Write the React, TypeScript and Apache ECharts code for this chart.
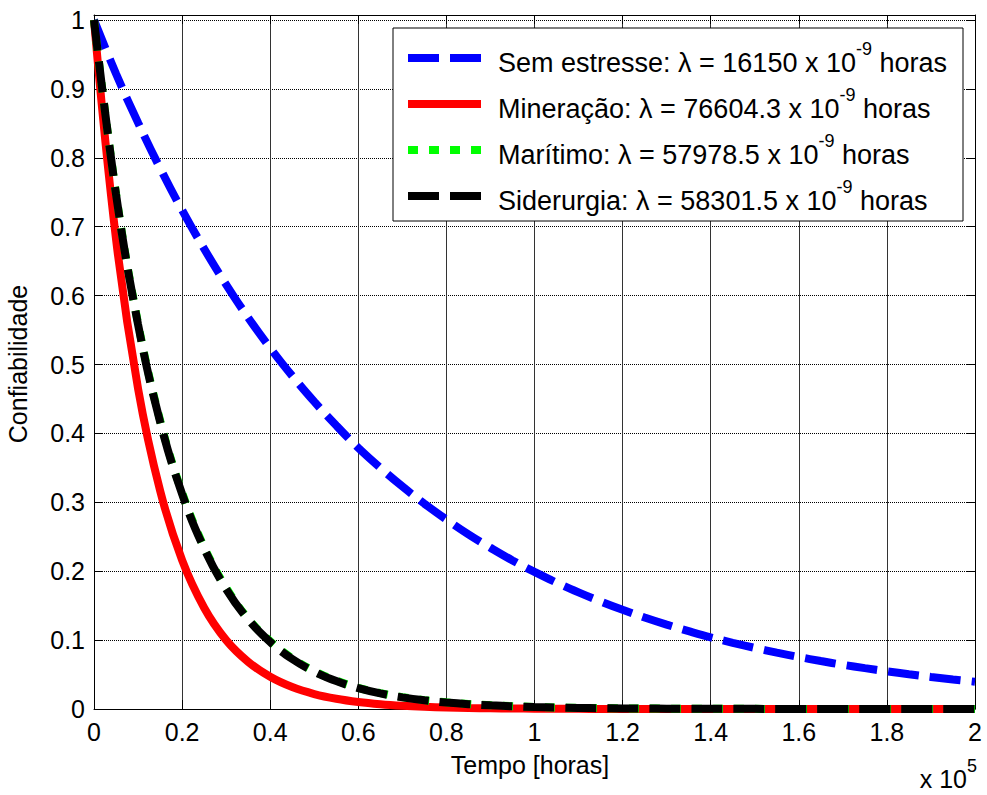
import React, { useEffect, useRef } from "react";
import * as echarts from "echarts";

// Tempo in units of 1e5 horas (0 to 2, step 0.05)
const tempo = [
  0, 0.05, 0.1, 0.15, 0.2, 0.25, 0.3, 0.35, 0.4, 0.45, 0.5, 0.55, 0.6, 0.65, 0.7, 0.75, 0.8, 0.85, 0.9, 0.95, 1.0,
  1.05, 1.1, 1.15, 1.2, 1.25, 1.3, 1.35, 1.4, 1.45, 1.5, 1.55, 1.6, 1.65, 1.7, 1.75, 1.8, 1.85, 1.9, 1.95, 2.0,
];
const semEstresse = [
  1, 0.922, 0.851, 0.785, 0.724, 0.668, 0.616, 0.568, 0.524, 0.4835, 0.446, 0.4114, 0.379, 0.35, 0.323, 0.298, 0.275, 0.2534, 0.234, 0.2156, 0.199,
  0.1834, 0.1692, 0.1561, 0.144, 0.1328, 0.1225, 0.113, 0.104, 0.0961, 0.0887, 0.0818, 0.0755, 0.0696, 0.0642, 0.0593, 0.0547, 0.0504, 0.0465, 0.0429, 0.0396,
];
const mineracao = [
  1, 0.682, 0.465, 0.317, 0.216, 0.147, 0.1, 0.0685, 0.0467, 0.0318, 0.0217, 0.0148, 0.0101, 0.0069, 0.0047, 0.0032, 0.0022, 0.0015, 0.001, 0.0007, 0.0005,
  0.0003, 0.0002, 0.0001, 0.0001, 0, 0, 0, 0, 0, 0, 0, 0, 0, 0, 0, 0, 0, 0, 0, 0,
];
const maritimo = [
  1, 0.748, 0.56, 0.419, 0.314, 0.235, 0.176, 0.131, 0.0984, 0.0736, 0.055, 0.0412, 0.0308, 0.0231, 0.0173, 0.0129, 0.0097, 0.0072, 0.0054, 0.0041, 0.003,
  0.0023, 0.0017, 0.0013, 0.00095, 0.0007, 0.0005, 0.0004, 0.0003, 0.0002, 0.0002, 0.0001, 0.0001, 0.0001, 0, 0, 0, 0, 0, 0, 0,
];
const siderurgia = [
  1, 0.747, 0.558, 0.417, 0.312, 0.233, 0.174, 0.13, 0.0971, 0.0725, 0.0542, 0.0405, 0.0303, 0.0226, 0.0169, 0.0126, 0.0094, 0.007, 0.0053, 0.0039, 0.0029,
  0.0022, 0.0016, 0.0012, 0.0009, 0.0007, 0.0005, 0.0004, 0.0003, 0.0002, 0.0002, 0.0001, 0.0001, 0.0001, 0, 0, 0, 0, 0, 0, 0,
];

const seriesNames = ["Sem estresse", "Mineração", "Marítimo", "Siderurgia"];
const legendLabels = [
  ["Sem estresse: λ = 16150 x 10", "-9", " horas"],
  ["Mineração: λ = 76604.3 x 10", "-9", " horas"],
  ["Marítimo: λ = 57978.5 x 10", "-9", " horas"],
  ["Siderurgia: λ = 58301.5 x 10", "-9", " horas"],
];
const xAxisName = "Tempo [horas]";
const yAxisName = "Confiabilidade";
const xScaleNote = ["x 10", "5"];

const FONT = "'Liberation Sans', Arial, Helvetica, sans-serif";
const colors = ["#0000ff", "#ff0000", "#00ff00", "#000000"];
const dashes: number[][] = [[31, 11], [], [10, 11], [31, 11]];

export default function App() {
  const ref = useRef<HTMLDivElement>(null);
  useEffect(() => {
    document.body.style.margin = "0";
    const chart = echarts.init(ref.current!, undefined, { renderer: "svg" });
    const all = [semEstresse, mineracao, maritimo, siderurgia];
    const GL = 94, GT = 15, GR = 12, GB = 86;
    const plotH = 795 - GT - GB; // 694
    const yMax = plotH / (709 - 20); // value 1 sits at y=20
    const axisCommonX = {
      type: "value" as const,
      min: 0,
      max: 2,
      interval: 0.2,
      axisLine: { show: true, onZero: false, lineStyle: { color: "#000", width: 1 } },
      axisTick: { show: true, inside: true, length: 9, lineStyle: { color: "#000", width: 1 } },
    };
    const axisCommonY = {
      type: "value" as const,
      min: 0,
      max: yMax,
      interval: 0.1,
      axisLine: { show: true, onZero: false, lineStyle: { color: "#000", width: 1 } },
      axisTick: { show: true, inside: true, length: 9, lineStyle: { color: "#000", width: 1 } },
    };
    const legendRows = [58, 104, 150, 196];
    const graphics: any[] = [
      {
        type: "rect",
        shape: { x: 393, y: 28, width: 570, height: 193 },
        style: { fill: "#fff", stroke: "#000", lineWidth: 1 },
        z: 100,
      },
    ];
    legendRows.forEach((y, i) => {
      graphics.push({
        type: "line",
        shape: { x1: 408, y1: y, x2: 481, y2: y },
        style: { stroke: colors[i], lineWidth: 8, lineDash: dashes[i].length ? dashes[i] : null, lineCap: "butt" },
        z: 101,
      });
      const [a, s, b] = legendLabels[i];
      graphics.push({
        type: "text",
        x: 498,
        y: y,
        style: {
          text: `{a|${a}}{s|${s}}{a|${b}}`,
          align: "left",
          verticalAlign: "middle",
          fill: "#000",
          rich: {
            a: { fontSize: 27, fontFamily: FONT, lineHeight: 36, verticalAlign: "bottom", fill: "#000" },
            s: { fontSize: 18, fontFamily: FONT, lineHeight: 18, verticalAlign: "top", fill: "#000" },
          },
        },
        z: 101,
      });
    });
    graphics.push({
      type: "text",
      x: 530,
      y: 765,
      style: { text: xAxisName, fontSize: 25, fontFamily: FONT, fill: "#000", align: "center", verticalAlign: "middle" },
    });
    graphics.push({
      type: "text",
      x: 18,
      y: 364,
      rotation: Math.PI / 2,
      style: { text: yAxisName, fontSize: 25, fontFamily: FONT, fill: "#000", align: "center", verticalAlign: "middle" },
    });
    graphics.push({
      type: "text",
      x: 977,
      y: 774,
      style: {
        text: `{a|${xScaleNote[0]}}{s|${xScaleNote[1]}}`,
        align: "right",
        verticalAlign: "middle",
        rich: {
          a: { fontSize: 25, fontFamily: FONT, lineHeight: 34, verticalAlign: "bottom", fill: "#000" },
          s: { fontSize: 18, fontFamily: FONT, lineHeight: 18, verticalAlign: "top", fill: "#000" },
        },
      },
    });

    chart.setOption({
      animation: false,
      backgroundColor: "#fff",
      grid: { left: GL, top: GT, right: GR, bottom: GB, containLabel: false },
      xAxis: [
        {
          ...axisCommonX,
          position: "bottom",
          axisLabel: { show: true, fontSize: 25, fontFamily: FONT, color: "#000", margin: 10 },
          splitLine: { show: true, lineStyle: { color: "#333", width: 1, type: "solid" } },
        },
        {
          ...axisCommonX,
          position: "top",
          axisLabel: { show: false },
          splitLine: { show: false },
        },
      ],
      yAxis: [
        {
          ...axisCommonY,
          position: "left",
          axisLabel: { show: true, fontSize: 25, fontFamily: FONT, color: "#000", margin: 9, showMaxLabel: false },
          splitLine: { show: true, lineStyle: { color: "#000", width: 1, type: [1, 1] } },
        },
        {
          ...axisCommonY,
          position: "right",
          axisLabel: { show: false },
          splitLine: { show: false },
        },
      ],
      series: all.map((arr, i) => ({
        name: seriesNames[i],
        type: "line",
        xAxisIndex: 0,
        yAxisIndex: 0,
        data: tempo.map((t, k) => [t, arr[k]]),
        showSymbol: false,
        symbol: "none",
        smooth: 0.4,
        z: 2 + i,
        lineStyle: {
          color: colors[i],
          width: 8,
          type: dashes[i].length ? dashes[i] : "solid",
          cap: "butt",
        },
      })),
      graphic: graphics,
    });
    return () => chart.dispose();
  }, []);
  return (
    <div
      ref={ref}
      style={{ position: "fixed", left: 0, top: 0, width: 987, height: 795, background: "#fff" }}
    />
  );
}
